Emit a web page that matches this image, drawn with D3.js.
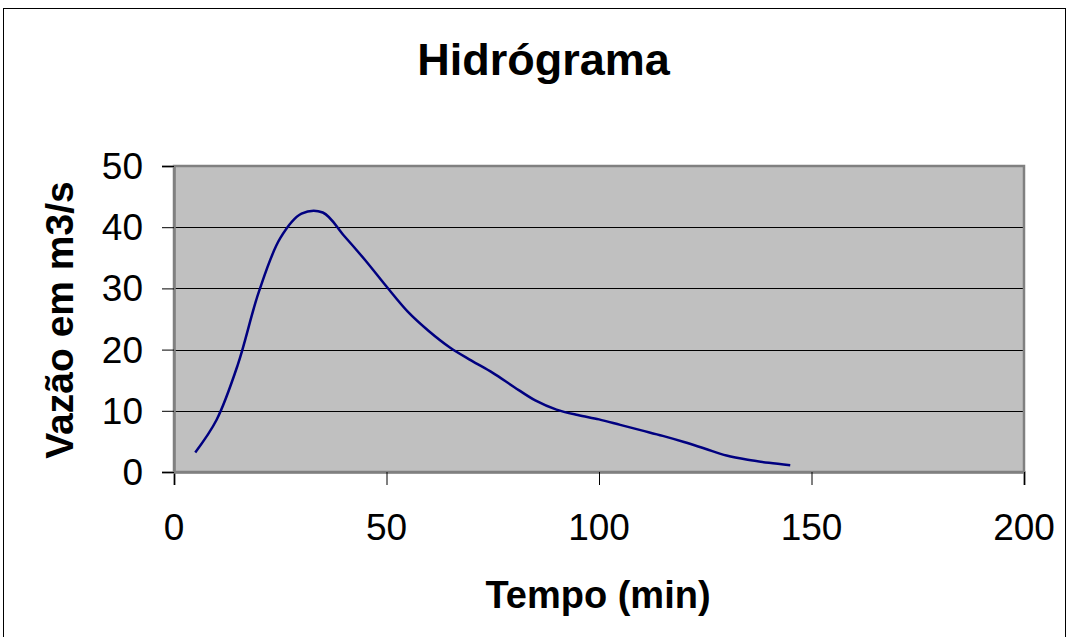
<!DOCTYPE html>
<html><head><meta charset="utf-8">
<script src="https://cdn.jsdelivr.net/npm/d3@7"></script>
<style>body{margin:0;background:#fff}svg{display:block}</style>
</head><body>
<svg id="c" width="1070" height="637"></svg>
<script>
const tempo = [5,10,15,20,25,30,35,40,45,50,55,60,65,70,75,80,85,90,95,100,105,110,115,120,125,130,135,140,145];
const vazao = [3.2,8.5,17.5,29.5,38.2,42.2,42.4,38.6,34.6,30.3,26.2,23.0,20.3,18.2,16.2,13.9,11.7,10.2,9.3,8.6,7.7,6.8,5.9,4.9,3.8,2.7,2.0,1.5,1.1];
const xTicks = [0,50,100,150,200];
const yTicks = [0,10,20,30,40,50];
const titleText = "Hidrógrama";
const xLabel = "Tempo (min)";
const yLabel = "Vazão em m3/s";

const svg = d3.select("#c");
const L=174, R=1024, T=166, B=472;
const x = d3.scaleLinear().domain([0,200]).range([L,R]);
const y = d3.scaleLinear().domain([0,50]).range([B,T]);
const font = "'Liberation Sans', Arial, sans-serif";

svg.append("rect").attr("x",3.5).attr("y",8.5).attr("width",1062).attr("height",640)
  .attr("fill","#fff").attr("stroke","#000").attr("stroke-width",1);

svg.append("rect").attr("x",L).attr("y",T).attr("width",R-L).attr("height",B-T)
  .attr("fill","#c0c0c0");

// gridlines
svg.append("g").selectAll("line").data(yTicks.filter(d=>d>0&&d<50)).join("line")
  .attr("x1",L).attr("x2",R).attr("y1",d=>Math.round(y(d))+0.5).attr("y2",d=>Math.round(y(d))+0.5)
  .attr("stroke","#000").attr("stroke-width",1);

// plot border
svg.append("rect").attr("x",L).attr("y",T).attr("width",R-L).attr("height",B-T)
  .attr("fill","none").attr("stroke","#808080").attr("stroke-width",2.5);

// axes
const xAxis = d3.axisBottom(x).tickValues(xTicks).tickSize(13).tickFormat("");
const gx = svg.append("g").attr("transform",`translate(0,${B})`).call(xAxis);
gx.select(".domain").attr("stroke","#808080").attr("stroke-width",2.5);
gx.selectAll(".tick line").attr("stroke","#000");
const yAxis = d3.axisLeft(y).tickValues(yTicks).tickSize(12).tickFormat("");
const gy = svg.append("g").attr("transform",`translate(${L},0)`).call(yAxis);
gy.select(".domain").attr("stroke","#808080").attr("stroke-width",2.5);
gy.selectAll(".tick line").attr("stroke","#000");

// tick labels
svg.append("g").selectAll("text").data(xTicks).join("text")
  .attr("x",d=>x(d)).attr("y",540).attr("text-anchor","middle")
  .attr("font-family",font).attr("font-size",37).text(d=>d);
svg.append("g").selectAll("text").data(yTicks).join("text")
  .attr("x",143).attr("y",d=>y(d)+13).attr("text-anchor","end")
  .attr("font-family",font).attr("font-size",37).text(d=>d);

// line
const line = d3.line().x((d,i)=>x(tempo[i])).y(d=>y(d)).curve(d3.curveCatmullRom.alpha(0.5));
svg.append("path").datum(vazao).attr("d",line).attr("fill","none")
  .attr("stroke","#000080").attr("stroke-width",2.5);

// titles
svg.append("text").attr("x",543.5).attr("y",75).attr("text-anchor","middle")
  .attr("font-family",font).attr("font-weight","bold").attr("font-size",45).text(titleText);
svg.append("text").attr("x",598).attr("y",608).attr("text-anchor","middle")
  .attr("font-family",font).attr("font-weight","bold").attr("font-size",38).text(xLabel);
svg.append("text").attr("transform","translate(73,320) rotate(-90)").attr("text-anchor","middle")
  .attr("font-family",font).attr("font-weight","bold").attr("font-size",39).text(yLabel);
</script>
</body></html>
